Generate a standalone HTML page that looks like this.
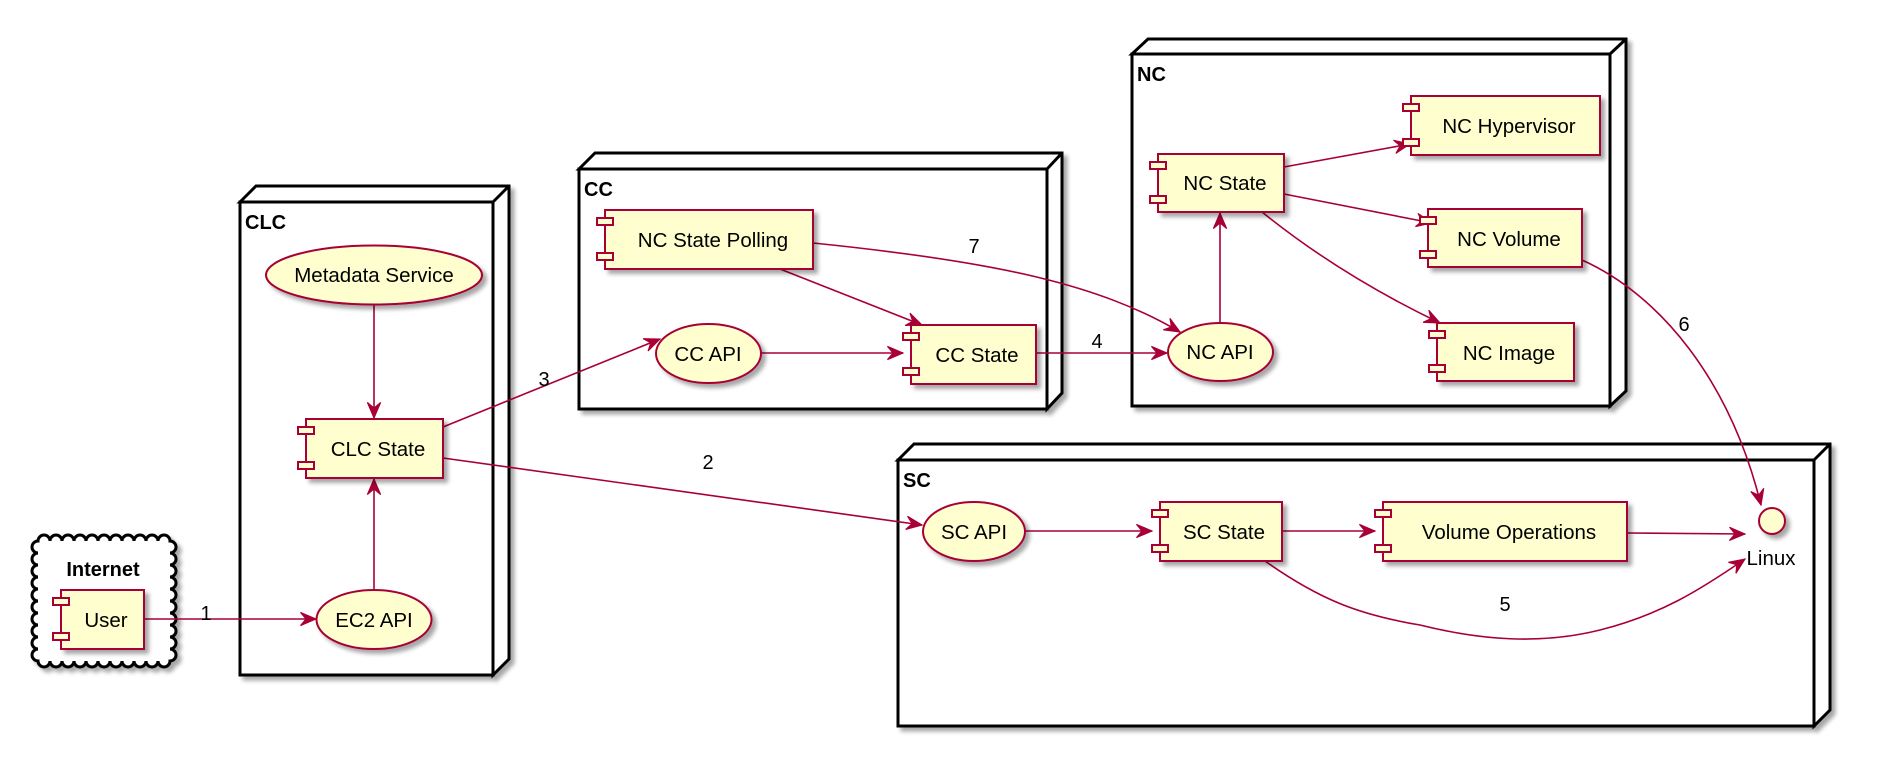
<!DOCTYPE html>
<html><head><meta charset="utf-8"><style>
html,body{margin:0;padding:0;background:#fff;}
svg{display:block;}
text{font-family:"Liberation Sans",sans-serif;}
</style></head><body>
<svg width="1881" height="768" viewBox="0 0 1881 768" xmlns="http://www.w3.org/2000/svg">
<defs>
<filter id="sh" x="-10%" y="-10%" width="130%" height="140%">
<feGaussianBlur in="SourceAlpha" stdDeviation="2"/>
<feOffset dx="4" dy="4" result="o"/>
<feComponentTransfer><feFuncA type="linear" slope="0.35"/></feComponentTransfer>
<feMerge><feMergeNode/><feMergeNode in="SourceGraphic"/></feMerge>
</filter>
<marker id="ar" markerUnits="userSpaceOnUse" markerWidth="20" markerHeight="20" viewBox="-16 -8 18 16" refX="0" refY="0" orient="auto">
<path d="M0,0 L-14,-6 L-9,0 L-14,6 Z" fill="#A80036" stroke="#A80036" stroke-width="1"/>
</marker>
</defs>

<g stroke="#000" stroke-width="3" fill="#fff" filter="url(#sh)">
<path d="M240,202 L256,186 L509,186 L509,659 L493,675 L493,202 Z"/>
<rect x="240" y="202" width="253" height="473"/>
<line x1="493" y1="202" x2="509" y2="186"/>
<path d="M579,169 L595,153 L1062,153 L1062,393 L1047,409 L1047,169 Z"/>
<rect x="579" y="169" width="468" height="240"/>
<line x1="1047" y1="169" x2="1062" y2="153"/>
<path d="M1132,54 L1148,39 L1626,39 L1626,391 L1610,406 L1610,54 Z"/>
<rect x="1132" y="54" width="478" height="352"/>
<line x1="1610" y1="54" x2="1626" y2="39"/>
<path d="M898,460 L914,444 L1830,444 L1830,710 L1814,726 L1814,460 Z"/>
<rect x="898" y="460" width="916" height="266"/>
<line x1="1814" y1="460" x2="1830" y2="444"/>
</g>

<g filter="url(#sh)">
<path fill="#fff" stroke="#000" stroke-width="3" d="M38,541
a6,6 0 0 1 12,0 a6,6 0 0 1 12,0 a6,6 0 0 1 12,0 a6,6 0 0 1 12,0 a6,6 0 0 1 12,0 a6,6 0 0 1 12,0 a6,6 0 0 1 12,0 a6,6 0 0 1 12,0 a6,6 0 0 1 12,0 a6,6 0 0 1 12,0 a6,6 0 0 1 12,0
a6,6 0 0 1 0,12 a6,6 0 0 1 0,12 a6,6 0 0 1 0,12 a6,6 0 0 1 0,12 a6,6 0 0 1 0,12 a6,6 0 0 1 0,12 a6,6 0 0 1 0,12 a6,6 0 0 1 0,12 a6,6 0 0 1 0,12 a6,6 0 0 1 0,12
a6,6 0 0 1 -12,0 a6,6 0 0 1 -12,0 a6,6 0 0 1 -12,0 a6,6 0 0 1 -12,0 a6,6 0 0 1 -12,0 a6,6 0 0 1 -12,0 a6,6 0 0 1 -12,0 a6,6 0 0 1 -12,0 a6,6 0 0 1 -12,0 a6,6 0 0 1 -12,0 a6,6 0 0 1 -12,0
a6,6 0 0 1 0,-12 a6,6 0 0 1 0,-12 a6,6 0 0 1 0,-12 a6,6 0 0 1 0,-12 a6,6 0 0 1 0,-12 a6,6 0 0 1 0,-12 a6,6 0 0 1 0,-12 a6,6 0 0 1 0,-12 a6,6 0 0 1 0,-12 a6,6 0 0 1 0,-12 Z"/>
</g>

<g font-weight="bold" font-size="20" fill="#000">
<text x="245" y="229">CLC</text>
<text x="584" y="196">CC</text>
<text x="1137" y="81">NC</text>
<text x="903" y="487">SC</text>
<text x="103" y="576" text-anchor="middle">Internet</text>
</g>

<g stroke="#A80036" stroke-width="1.6" fill="none" marker-end="url(#ar)">
<line x1="144" y1="619" x2="316" y2="619"/>
<line x1="374" y1="304" x2="374" y2="418"/>
<line x1="374" y1="590" x2="374" y2="479"/>
<line x1="443" y1="427" x2="660" y2="339"/>
<line x1="443" y1="458" x2="922" y2="525"/>
<line x1="761" y1="353" x2="903" y2="353"/>
<line x1="780" y1="269" x2="922" y2="325"/>
<path d="M813,243 C1000,262 1100,285 1180,332"/>
<line x1="1036" y1="353" x2="1167" y2="353"/>
<line x1="1220" y1="323" x2="1220" y2="213"/>
<line x1="1284" y1="167" x2="1410" y2="144"/>
<line x1="1284" y1="194" x2="1432" y2="223"/>
<path d="M1262,212 Q1340,275 1440,323"/>
<path d="M1582,260 C1660,295 1730,380 1761,505"/>
<line x1="1025" y1="531" x2="1152" y2="531"/>
<line x1="1282" y1="531" x2="1375" y2="531"/>
<line x1="1627" y1="533" x2="1745" y2="534"/>
<path d="M1265,561 C1320,600 1360,615 1420,625 C1480,640 1540,645 1600,630 C1660,615 1700,590 1745,559"/>
</g>

<g font-size="20" fill="#000" text-anchor="middle">
<text x="206" y="620">1</text>
<text x="708" y="469">2</text>
<text x="544" y="386">3</text>
<text x="1097" y="348">4</text>
<text x="1505" y="611">5</text>
<text x="1684" y="331">6</text>
<text x="974" y="253">7</text>
</g>

<g stroke="#A80036" stroke-width="2" fill="#FEFECE">
<g filter="url(#sh)">
<ellipse cx="374" cy="275" rx="108" ry="29.5"/>
<ellipse cx="374" cy="619.5" rx="57.5" ry="29.5"/>
<ellipse cx="708.5" cy="353.5" rx="52.5" ry="29.5"/>
<ellipse cx="1220.5" cy="352" rx="52.5" ry="29"/>
<ellipse cx="974" cy="531.5" rx="51" ry="29.5"/>
<circle cx="1772" cy="521" r="13"/>
<rect x="61" y="590" width="83" height="59"/>
<rect x="306" y="419" width="137" height="59"/>
<rect x="605" y="210" width="208" height="59"/>
<rect x="911" y="325" width="125" height="59"/>
<rect x="1158" y="154" width="126" height="58"/>
<rect x="1411" y="96" width="189" height="59"/>
<rect x="1428" y="209" width="154" height="58"/>
<rect x="1437" y="323" width="137" height="58"/>
<rect x="1160" y="502" width="122" height="59"/>
<rect x="1383" y="502" width="244" height="59"/>
</g>
<rect x="53" y="598" width="16" height="7"/><rect x="53" y="633" width="16" height="7"/>
<rect x="298" y="427" width="16" height="7"/><rect x="298" y="462" width="16" height="7"/>
<rect x="597" y="218" width="16" height="7"/><rect x="597" y="253" width="16" height="7"/>
<rect x="903" y="333" width="16" height="7"/><rect x="903" y="368" width="16" height="7"/>
<rect x="1150" y="162" width="16" height="7"/><rect x="1150" y="196" width="16" height="7"/>
<rect x="1403" y="104" width="16" height="7"/><rect x="1403" y="139" width="16" height="7"/>
<rect x="1420" y="217" width="16" height="7"/><rect x="1420" y="251" width="16" height="7"/>
<rect x="1429" y="331" width="16" height="7"/><rect x="1429" y="365" width="16" height="7"/>
<rect x="1152" y="510" width="16" height="7"/><rect x="1152" y="545" width="16" height="7"/>
<rect x="1375" y="510" width="16" height="7"/><rect x="1375" y="545" width="16" height="7"/>
</g>

<g font-size="20.5" fill="#000" text-anchor="middle">
<text x="374" y="282">Metadata Service</text>
<text x="374" y="627">EC2 API</text>
<text x="708" y="361">CC API</text>
<text x="1220" y="359">NC API</text>
<text x="974" y="539">SC API</text>
<text x="106" y="627">User</text>
<text x="378" y="456">CLC State</text>
<text x="713" y="247">NC State Polling</text>
<text x="977" y="362">CC State</text>
<text x="1225" y="190">NC State</text>
<text x="1509" y="133">NC Hypervisor</text>
<text x="1509" y="246">NC Volume</text>
<text x="1509" y="360">NC Image</text>
<text x="1224" y="539">SC State</text>
<text x="1509" y="539">Volume Operations</text>
<text x="1771" y="565">Linux</text>
</g>
</svg>
</body></html>
